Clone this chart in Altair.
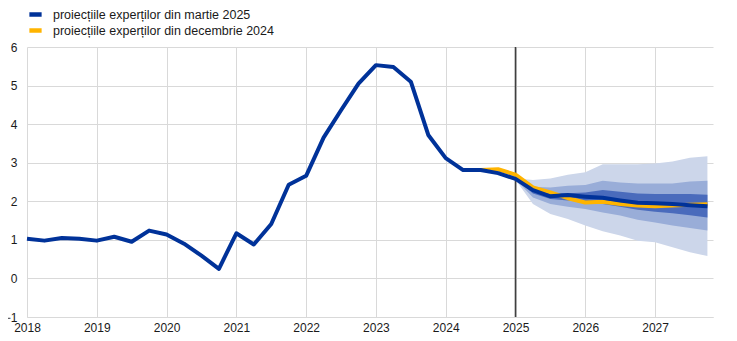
import altair as alt
import pandas as pd

# ---- data ----
years_q = [2018 + i / 4 for i in range(40)]  # 2018Q1 .. 2027Q4

march_2025 = [
    1.03, 0.98, 1.05, 1.03, 0.98, 1.08, 0.95, 1.24,
    1.14, 0.90, 0.59, 0.25, 1.17, 0.88, 1.41, 2.43,
    2.66, 3.65, 4.36, 5.05, 5.53, 5.48, 5.10, 3.72,
    3.12, 2.81, 2.81, 2.73, 2.58, 2.29, 2.13, 2.16,
    2.12, 2.09, 2.02, 1.96, 1.95, 1.93, 1.90, 1.87,
]

dec_2024_x = [2024.25, 2024.5, 2024.75, 2025.0, 2025.25, 2025.5, 2025.75,
              2026.0, 2026.25, 2026.5, 2026.75, 2027.0, 2027.25, 2027.5, 2027.75]
dec_2024 = [2.81, 2.81, 2.83, 2.69, 2.36, 2.23, 2.08,
            1.97, 1.99, 1.93, 1.89, 1.87, 1.89, 1.91, 1.92]

band_x = [2025.0, 2025.25, 2025.5, 2025.75, 2026.0, 2026.25, 2026.5,
          2026.75, 2027.0, 2027.25, 2027.5, 2027.75]
outer_hi = [2.60, 2.55, 2.59, 2.69, 2.75, 2.96, 2.96, 2.96, 2.98, 3.03, 3.13, 3.17]
outer_lo = [2.56, 1.93, 1.67, 1.54, 1.37, 1.22, 1.11, 0.98, 0.94, 0.81, 0.68, 0.58]
mid_hi = [2.59, 2.38, 2.36, 2.40, 2.42, 2.53, 2.49, 2.46, 2.46, 2.46, 2.51, 2.53]
mid_lo = [2.57, 2.10, 1.93, 1.86, 1.80, 1.71, 1.63, 1.52, 1.45, 1.37, 1.31, 1.24]
in_hi = [2.58, 2.32, 2.21, 2.21, 2.23, 2.29, 2.25, 2.20, 2.19, 2.19, 2.19, 2.17]
in_lo = [2.58, 2.20, 2.06, 2.02, 1.97, 1.93, 1.86, 1.78, 1.73, 1.69, 1.64, 1.58]

series_names = ["proiecțiile experților din martie 2025",
                "proiecțiile experților din decembrie 2024"]
series_colors = ["#003299", "#FFB400"]

year_ticks = list(range(2018, 2028))
y_ticks = list(range(-1, 7))

# ---- tables ----
df_m = pd.DataFrame({"x": years_q, "y": march_2025, "s": series_names[0]})
df_d = pd.DataFrame({"x": dec_2024_x, "y": dec_2024, "s": series_names[1]})
df_b = pd.DataFrame({"x": band_x, "ohi": outer_hi, "olo": outer_lo,
                     "mhi": mid_hi, "mlo": mid_lo, "ihi": in_hi, "ilo": in_lo})
df_r = pd.DataFrame({"x": [2025.0]})

xscale = alt.Scale(domain=[2018, 2027.83], nice=False, zero=False)
yscale = alt.Scale(domain=[-1, 6], nice=False, zero=False)

xaxis = alt.Axis(values=year_ticks, format="d", title=None, ticks=False,
                 labelFlush=False, labelPadding=5, grid=True,
                 domain=True, domainColor="#d9d9d9")
yaxis = alt.Axis(values=y_ticks, title=None, ticks=False, labelPadding=10,
                 grid=True, domain=False)


def X(field="x"):
    return alt.X(f"{field}:Q", scale=xscale, axis=xaxis, title=None)


def Y(field):
    return alt.Y(f"{field}:Q", scale=yscale, axis=yaxis, title=None)


def band(hi, lo, color):
    return alt.Chart(df_b).mark_area(color=color, opacity=1).encode(
        x=X(), y=Y(lo), y2=alt.Y2(f"{hi}:Q"),
    )


rule = alt.Chart(df_r).mark_rule(color="#404040", strokeWidth=1.6).encode(
    x=X()
)

color = alt.Color("s:N", scale=alt.Scale(domain=series_names, range=series_colors),
                  legend=alt.Legend(
                      title=None, orient="none", legendX=0, legendY=-39,
                      symbolType="stroke", symbolSize=150,
                      symbolStrokeWidth=4.5, labelOffset=9, rowPadding=3,
                      clipHeight=13,
                      labelLimit=400, labelFontSize=12.5, padding=0,
                      labelColor="#1a1a1a", labelFont="Liberation Sans"))

line_d = alt.Chart(df_d).mark_line(strokeWidth=4, strokeJoin="round").encode(
    x=X(), y=Y("y"), color=color,
)
line_m = alt.Chart(df_m).mark_line(strokeWidth=4, strokeJoin="round").encode(
    x=X(), y=Y("y"), color=color,
)

chart = alt.layer(
    band("ohi", "olo", "#CCD6EA"),
    band("mhi", "mlo", "#99ADD8"),
    band("ihi", "ilo", "#4A6BBC"),
    rule,
    line_d,
    line_m,
).properties(
    width=686, height=270,
    padding={"left": 19, "top": 39, "right": 10, "bottom": 17},
    autosize=alt.AutoSizeParams(type="none"),
).configure_view(stroke=None).configure_axis(
    gridColor="#d9d9d9", gridWidth=1, labelFont="Liberation Sans",
    labelFontSize=12, labelColor="#1a1a1a"
)

chart.save("out.html", embed_options={"renderer": "svg", "actions": False})
